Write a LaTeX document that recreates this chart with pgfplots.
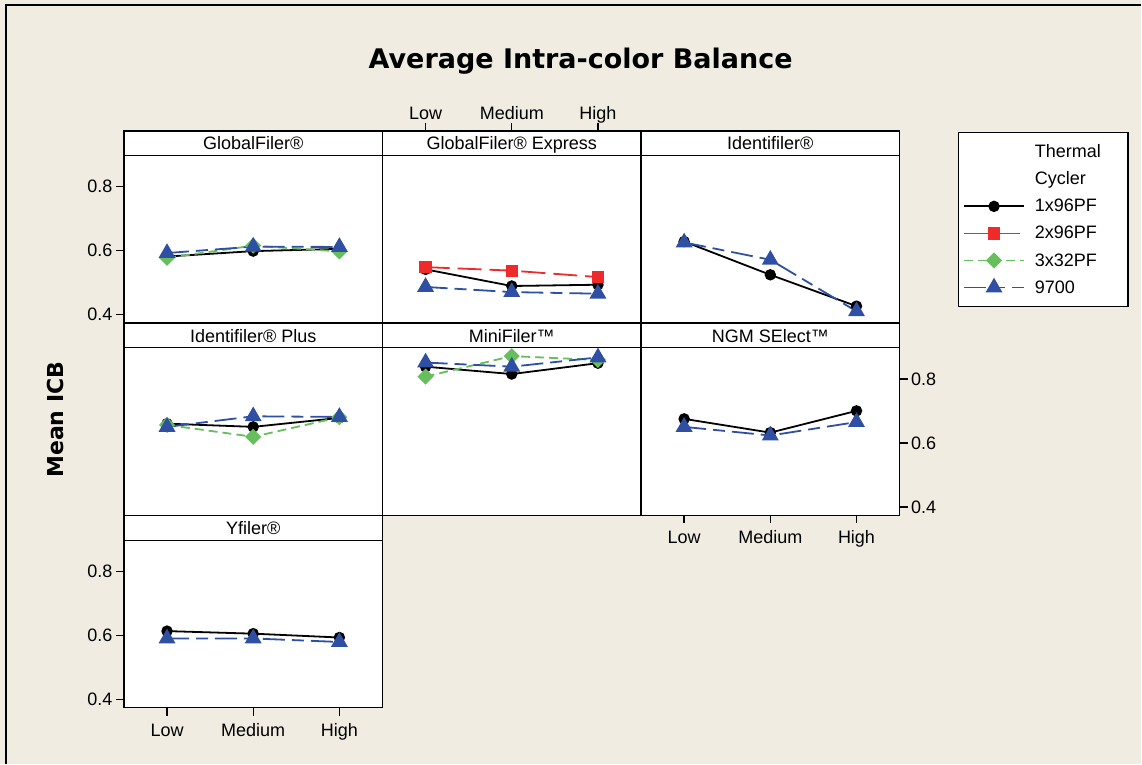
\documentclass[border=0pt]{standalone}
\usepackage{pgfplots}
\pgfplotsset{compat=1.18}
\usepackage{fontspec}
\setmainfont{Liberation Sans}
\newfontfamily\dejabold{DejaVu Sans}[BoldFont={DejaVu Sans Bold}]

\definecolor{bg}{HTML}{F0ECE2}
\definecolor{cred}{HTML}{EE2A2A}
\definecolor{cgreen}{HTML}{66BE5C}
\definecolor{cblue}{HTML}{2F50A2}

\newcommand\lbl{\fontsize{18}{21}\selectfont}
\newcommand\header[3]{%
  \draw[fill=white,line width=1.3pt] (#1,-#2) rectangle ++(258.7,-24.5);
  \node[font=\lbl,anchor=base,inner sep=0pt] at (#1+129.35,-#2-19) {#3};}

\pgfplotsset{
  panel/.style={
    scale only axis, width=258.7pt, height=167.5pt, anchor=north west,
    xmin=0.5, xmax=3.5, ymin=0.374, ymax=0.897,
    axis background/.style={fill=white},
    axis line style={line width=1.3pt},
    xtick=\empty, ytick=\empty, clip=false,
    tick align=outside, major tick length=8pt,
    every tick/.style={black,line width=1.3pt},
    tick label style={font=\lbl},
    xticklabel style={text height=13pt, text depth=4pt, yshift=-4pt},
    /pgf/number format/assume math mode=true,
  },
  xlab/.style={xtick={1,2,3}, xticklabels={Low,Medium,High}},
  ylab/.style={ytick={0.4,0.6,0.8}, yticklabels={0.4,0.6,0.8}},
  s1/.style={black, line width=1.8pt, mark=*, mark size=4.8pt, mark options={solid,fill=black}},
  s2/.style={cred, line width=1.8pt, dash pattern=on 24pt off 8pt, mark=square*, mark size=5.2pt, mark options={solid,fill=cred,draw=cred}},
  s3/.style={cgreen, line width=1.8pt, dash pattern=on 9pt off 5pt, mark=square*, mark size=4.8pt, mark options={solid,rotate=45,fill=cgreen,draw=cgreen}},
  s4/.style={cblue, line width=1.8pt, dash pattern=on 22pt off 7pt on 12pt off 7pt, mark=triangle*, mark size=8pt, mark options={solid,fill=cblue,draw=cblue}},
}

\begin{document}
\begin{tikzpicture}
\begin{scope}[x=1pt,y=1pt]
\fill[bg] (0,0) rectangle (1142,-764);
\draw[line width=1.3pt] (6,-764) -- (6,-5) -- (1142,-5);
\node[font={\dejabold\bfseries\fontsize{27}{30}\selectfont}] at (581,-61) {Average Intra-color Balance};
\node[rotate=90,font={\dejabold\bfseries\fontsize{22}{26}\selectfont}] at (56,-420) {Mean ICB};

\header{124}{131}{GlobalFiler®}
\header{382.7}{131}{GlobalFiler® Express}
\header{641.4}{131}{Identifiler®}
\header{124}{323.5}{Identifiler® Plus}
\header{382.7}{323.5}{MiniFiler™}
\header{641.4}{323.5}{NGM SElect™}
\header{124}{516}{Yfiler®}
\end{scope}

% top ticks above the GlobalFiler Express strip
\begin{axis}[panel, at={(382.7pt,-131pt)}, height=24.5pt, axis background/.style={},
  axis line style={draw=none}, xlab, xtick pos=right, xticklabel pos=right,
  ymin=0, ymax=1]
\end{axis}

% row 1
\begin{axis}[panel, at={(124pt,-155.5pt)}, ylab, ytick pos=left]
\addplot[s1] coordinates {(1,0.581) (2,0.598) (3,0.605)};
\addplot[s3] coordinates {(1,0.577) (2,0.615) (3,0.597)};
\addplot[s4] coordinates {(1,0.592) (2,0.612) (3,0.611)};
\end{axis}

\begin{axis}[panel, at={(382.7pt,-155.5pt)}]
\addplot[s1] coordinates {(1,0.541) (2,0.489) (3,0.493)};
\addplot[s2] coordinates {(1,0.548) (2,0.537) (3,0.517)};
\addplot[s4] coordinates {(1,0.486) (2,0.470) (3,0.465)};
\end{axis}

\begin{axis}[panel, at={(641.4pt,-155.5pt)},
  legend style={at={(1.224,1.142)}, anchor=north west, draw=black, line width=1.3pt,
    fill=white, font=\lbl, inner xsep=5pt, inner ysep=10pt, row sep=9pt,
    column sep=8pt},
  legend cell align=left,
  legend image code/.code={\draw[mark repeat=2,mark phase=2,#1]
    plot coordinates {(0pt,0pt) (30pt,0pt) (60pt,0pt)};}]
\addlegendimage{empty legend}\addlegendentry{Thermal\hspace*{20pt}}
\addlegendimage{empty legend}\addlegendentry{Cycler}
\addlegendimage{s1}\addlegendentry{1x96PF}
\addlegendimage{s2}\addlegendentry{2x96PF}
\addlegendimage{s3}\addlegendentry{3x32PF}
\addlegendimage{s4}\addlegendentry{9700}
\addplot[s1,forget plot] coordinates {(1,0.628) (2,0.524) (3,0.426)};
\addplot[s4,forget plot] coordinates {(1,0.625) (2,0.571) (3,0.410)};
\end{axis}

% row 2
\begin{axis}[panel, at={(124pt,-348pt)}]
\addplot[s1] coordinates {(1,0.660) (2,0.650) (3,0.678)};
\addplot[s3] coordinates {(1,0.656) (2,0.619) (3,0.680)};
\addplot[s4] coordinates {(1,0.650) (2,0.683) (3,0.681)};
\end{axis}

\begin{axis}[panel, at={(382.7pt,-348pt)}]
\addplot[s1] coordinates {(1,0.838) (2,0.815) (3,0.849)};
\addplot[s3] coordinates {(1,0.807) (2,0.871) (3,0.859)};
\addplot[s4] coordinates {(1,0.851) (2,0.838) (3,0.867)};
\end{axis}

\begin{axis}[panel, at={(641.4pt,-348pt)}, xlab, xtick pos=left,
  ylab, ytick pos=right, yticklabel pos=right]
\addplot[s1] coordinates {(1,0.675) (2,0.632) (3,0.700)};
\addplot[s4] coordinates {(1,0.650) (2,0.623) (3,0.665)};
\end{axis}

% row 3
\begin{axis}[panel, at={(124pt,-540.5pt)}, xlab, xtick pos=left, ylab, ytick pos=left]
\addplot[s1] coordinates {(1,0.613) (2,0.605) (3,0.593)};
\addplot[s4] coordinates {(1,0.590) (2,0.590) (3,0.579)};
\end{axis}
\end{tikzpicture}
\end{document}
